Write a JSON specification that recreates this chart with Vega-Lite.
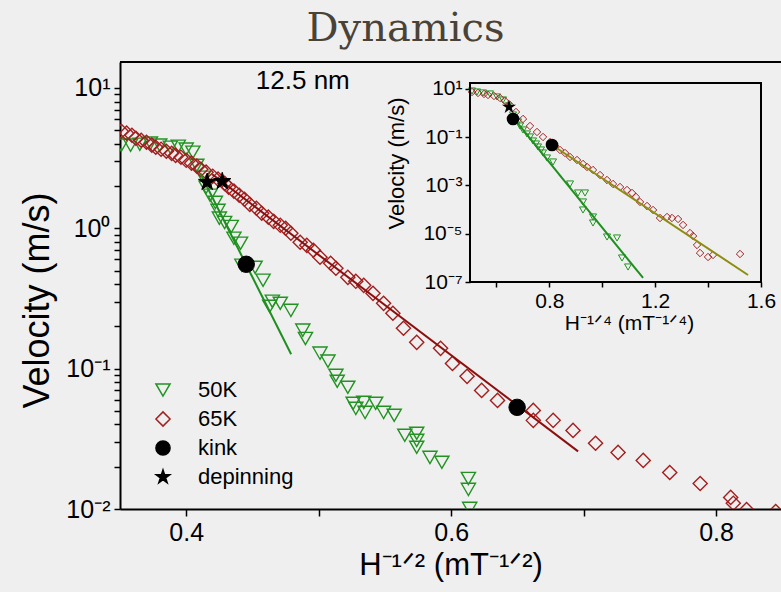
{
 "$schema": "https://vega.github.io/schema/vega-lite/v6.json",
 "width": 661, "height": 447,
 "autosize": {"type": "none"},
 "padding": {"left": 120, "top": 62, "right": 0, "bottom": 83},
 "background": "#efefef",
 "title": {"text": "Dynamics", "font": "DejaVu Serif", "fontSize": 40, "fontWeight": "normal", "color": "#4a4236", "anchor": "middle", "frame": "group", "dx": -45, "offset": 12},
 "config": {
  "view": {"stroke": null},
  "font": "Liberation Sans",
  "axis": {"grid": false, "domainColor": "#000", "domainWidth": 2, "tickColor": "#000", "tickWidth": 1.5, "labelColor": "#000", "titleColor": "#000", "titleFontWeight": "normal", "labelFlush": false, "labelOverlap": false, "labelFont": "Liberation Sans", "titleFont": "Liberation Sans"}
 },
 "datasets": {
  "main": [
   {"series":"50K","x":0.351,"y":3.91},{"series":"50K","x":0.358,"y":3.91},{"series":"50K","x":0.365,"y":3.97},{"series":"50K","x":0.373,"y":4.04},{"series":"50K","x":0.380,"y":3.91},{"series":"50K","x":0.388,"y":3.78},{"series":"50K","x":0.394,"y":3.84},{"series":"50K","x":0.400,"y":3.66},{"series":"50K","x":0.405,"y":3.48},{"series":"50K","x":0.408,"y":2.81},{"series":"50K","x":0.413,"y":2.31},{"series":"50K","x":0.415,"y":1.96},{"series":"50K","x":0.418,"y":1.72},{"series":"50K","x":0.422,"y":1.53},{"series":"50K","x":0.424,"y":1.34},{"series":"50K","x":0.425,"y":1.18},{"series":"50K","x":0.429,"y":1.10},{"series":"50K","x":0.434,"y":1.03},{"series":"50K","x":0.436,"y":0.849},{"series":"50K","x":0.441,"y":0.782},{"series":"50K","x":0.442,"y":0.545},{"series":"50K","x":0.452,"y":0.527},{"series":"50K","x":0.458,"y":0.426},{"series":"50K","x":0.463,"y":0.278},{"series":"50K","x":0.465,"y":0.302},{"series":"50K","x":0.471,"y":0.292},{"series":"50K","x":0.479,"y":0.260},{"series":"50K","x":0.488,"y":0.188},{"series":"50K","x":0.490,"y":0.164},{"series":"50K","x":0.501,"y":0.129},{"series":"50K","x":0.507,"y":0.113},{"series":"50K","x":0.513,"y":0.0896},{"series":"50K","x":0.514,"y":0.0812},{"series":"50K","x":0.522,"y":0.0736},{"series":"50K","x":0.526,"y":0.0566},{"series":"50K","x":0.528,"y":0.0521},{"series":"50K","x":0.534,"y":0.0575},{"series":"50K","x":0.535,"y":0.0488},{"series":"50K","x":0.543,"y":0.0566},{"series":"50K","x":0.549,"y":0.0488},{"series":"50K","x":0.557,"y":0.0465},{"series":"50K","x":0.565,"y":0.0335},{"series":"50K","x":0.574,"y":0.0346},{"series":"50K","x":0.574,"y":0.0308},{"series":"50K","x":0.574,"y":0.0275},{"series":"50K","x":0.584,"y":0.0233},{"series":"50K","x":0.593,"y":0.0215},{"series":"50K","x":0.613,"y":0.0165},{"series":"50K","x":0.613,"y":0.0138},{"series":"50K","x":0.614,"y":0.0101},
   {"series":"65K","x":0.351,"y":4.91},{"series":"65K","x":0.355,"y":4.76},{"series":"65K","x":0.359,"y":4.60},{"series":"65K","x":0.362,"y":4.38},{"series":"65K","x":0.366,"y":4.24},{"series":"65K","x":0.370,"y":4.10},{"series":"65K","x":0.374,"y":3.91},{"series":"65K","x":0.377,"y":3.78},{"series":"65K","x":0.381,"y":3.66},{"series":"65K","x":0.385,"y":3.54},{"series":"65K","x":0.389,"y":3.42},{"series":"65K","x":0.392,"y":3.31},{"series":"65K","x":0.396,"y":3.21},{"series":"65K","x":0.400,"y":3.05},{"series":"65K","x":0.404,"y":2.91},{"series":"65K","x":0.408,"y":2.77},{"series":"65K","x":0.411,"y":2.63},{"series":"65K","x":0.415,"y":2.51},{"series":"65K","x":0.420,"y":2.35},{"series":"65K","x":0.424,"y":2.24},{"series":"65K","x":0.429,"y":2.09},{"series":"65K","x":0.432,"y":1.96},{"series":"65K","x":0.436,"y":1.84},{"series":"65K","x":0.440,"y":1.72},{"series":"65K","x":0.444,"y":1.61},{"series":"65K","x":0.448,"y":1.48},{"series":"65K","x":0.453,"y":1.39},{"series":"65K","x":0.457,"y":1.28},{"series":"65K","x":0.462,"y":1.20},{"series":"65K","x":0.466,"y":1.12},{"series":"65K","x":0.471,"y":1.05},{"series":"65K","x":0.475,"y":1.00},{"series":"65K","x":0.479,"y":0.921},{"series":"65K","x":0.486,"y":0.795},{"series":"65K","x":0.491,"y":0.756},{"series":"65K","x":0.496,"y":0.697},{"series":"65K","x":0.501,"y":0.622},{"series":"65K","x":0.509,"y":0.563},{"series":"65K","x":0.513,"y":0.519},{"series":"65K","x":0.522,"y":0.447},{"series":"65K","x":0.528,"y":0.419},{"series":"65K","x":0.534,"y":0.392},{"series":"65K","x":0.541,"y":0.344},{"series":"65K","x":0.549,"y":0.292},{"series":"65K","x":0.556,"y":0.248},{"series":"65K","x":0.564,"y":0.194},{"series":"65K","x":0.574,"y":0.154},{"series":"65K","x":0.592,"y":0.1395},{"series":"65K","x":0.601,"y":0.109},{"series":"65K","x":0.612,"y":0.0881},{"series":"65K","x":0.623,"y":0.0700},{"series":"65K","x":0.635,"y":0.0594},{"series":"65K","x":0.662,"y":0.0504},{"series":"65K","x":0.662,"y":0.0428},{"series":"65K","x":0.677,"y":0.0428},{"series":"65K","x":0.692,"y":0.0363},{"series":"65K","x":0.709,"y":0.0294},{"series":"65K","x":0.726,"y":0.0253},{"series":"65K","x":0.745,"y":0.0222},{"series":"65K","x":0.765,"y":0.0182},{"series":"65K","x":0.788,"y":0.0152},{"series":"65K","x":0.811,"y":0.0121},{"series":"65K","x":0.813,"y":0.0110},{"series":"65K","x":0.823,"y":0.0099},{"series":"65K","x":0.845,"y":0.0096},
   {"series":"kink","x":0.4453,"y":0.554},{"series":"kink","x":0.6498,"y":0.053},
   {"series":"depinning","x":0.4158,"y":2.13},{"series":"depinning","x":0.4272,"y":2.16}
  ],
  "inset": [
   {"series":"50K","x":0.5076,"y":8.26},{"series":"50K","x":0.5265,"y":7.51},{"series":"50K","x":0.5491,"y":6.83},{"series":"50K","x":0.5756,"y":6.21},{"series":"50K","x":0.6021,"y":4.66},{"series":"50K","x":0.6248,"y":3.50},{"series":"50K","x":0.6437,"y":1.97},{"series":"50K","x":0.6626,"y":0.836},{"series":"50K","x":0.6815,"y":0.4285},{"series":"50K","x":0.6890,"y":0.2926},{"series":"50K","x":0.7004,"y":0.1998},{"series":"50K","x":0.7155,"y":0.1364},{"series":"50K","x":0.7268,"y":0.1024},{"series":"50K","x":0.7382,"y":0.0699},{"series":"50K","x":0.7495,"y":0.0525},{"series":"50K","x":0.7571,"y":0.0394},{"series":"50K","x":0.7684,"y":0.0296},{"series":"50K","x":0.7760,"y":0.0222},{"series":"50K","x":0.7911,"y":0.0138},{"series":"50K","x":0.8138,"y":0.00942},{"series":"50K","x":0.8781,"y":0.001154},{"series":"50K","x":0.9083,"y":0.000489},{"series":"50K","x":0.9348,"y":0.000489},{"series":"50K","x":0.9272,"y":0.000207},{"series":"50K","x":0.9272,"y":0.0000965},{"series":"50K","x":0.9650,"y":0.0000495},{"series":"50K","x":0.9650,"y":0.0000279},{"series":"50K","x":1.0180,"y":0.00000733},{"series":"50K","x":1.0558,"y":0.00000666},{"series":"50K","x":1.0747,"y":0.000000988},{"series":"50K","x":1.0974,"y":0.000000418},
   {"series":"65K","x":0.5076,"y":7.51},{"series":"65K","x":0.5302,"y":6.83},{"series":"65K","x":0.5529,"y":6.21},{"series":"65K","x":0.5681,"y":5.64},{"series":"65K","x":0.5907,"y":5.13},{"series":"65K","x":0.6134,"y":4.24},{"series":"65K","x":0.6323,"y":3.18},{"series":"65K","x":0.6512,"y":2.17},{"series":"65K","x":0.6739,"y":1.113},{"series":"65K","x":0.7004,"y":0.571},{"series":"65K","x":0.7268,"y":0.2926},{"series":"65K","x":0.7533,"y":0.1651},{"series":"65K","x":0.7760,"y":0.1024},{"series":"65K","x":0.8025,"y":0.0635},{"series":"65K","x":0.8214,"y":0.0434},{"series":"65K","x":0.8403,"y":0.0296},{"series":"65K","x":0.8592,"y":0.0222},{"series":"65K","x":0.8781,"y":0.0152},{"series":"65K","x":0.9045,"y":0.0114},{"series":"65K","x":0.9272,"y":0.00778},{"series":"65K","x":0.9423,"y":0.00585},{"series":"65K","x":0.9650,"y":0.00439},{"series":"65K","x":0.9915,"y":0.00272},{"series":"65K","x":1.0180,"y":0.00169},{"series":"65K","x":1.0406,"y":0.001154},{"series":"65K","x":1.0671,"y":0.000867},{"series":"65K","x":1.0936,"y":0.000651},{"series":"65K","x":1.1125,"y":0.000489},{"series":"65K","x":1.1276,"y":0.000334},{"series":"65K","x":1.1427,"y":0.000207},{"series":"65K","x":1.1692,"y":0.0001414},{"series":"65K","x":1.1919,"y":0.0000965},{"series":"65K","x":1.2183,"y":0.0000449},{"series":"65K","x":1.2448,"y":0.0000495},{"series":"65K","x":1.2637,"y":0.0000449},{"series":"65K","x":1.2864,"y":0.0000409},{"series":"65K","x":1.3053,"y":0.0000231},{"series":"65K","x":1.3318,"y":0.0000107},{"series":"65K","x":1.3431,"y":0.00000807},{"series":"65K","x":1.3582,"y":0.00000342},{"series":"65K","x":1.3696,"y":0.00000159},{"series":"65K","x":1.3998,"y":0.00000109},{"series":"65K","x":1.4187,"y":0.00000132},{"series":"65K","x":1.5208,"y":0.00000145},
   {"series":"kink","x":0.6626,"y":0.571},{"series":"kink","x":0.810,"y":0.0477},
   {"series":"depinning","x":0.6474,"y":1.794}
  ],
  "fits": [
   {"fit":"m50","x":0.4106,"y":2.466},{"fit":"m50","x":0.4792,"y":0.1265},
   {"fit":"m65","x":0.4196,"y":2.426},{"fit":"m65","x":0.6958,"y":0.02574},
   {"fit":"i50","x":0.6701,"y":0.519},{"fit":"i50","x":1.1541,"y":1.466e-7},
   {"fit":"i65","x":0.810,"y":0.0477},{"fit":"i65","x":1.551,"y":1.95e-7}
  ],
  "note": [{"label":"12.5 nm","x":0.488,"y":11.2}],
  "frame": [{"x":0.5,"x2":1.6,"y":1e-7,"y2":17.7}],
  "top": [{"y":15.3}]
 },
 "resolve": {"scale": {"x": "independent", "y": "independent"}},
 "layer": [
  {
   "data": {"name": "main"},
   "transform": [{"filter": "datum.series == '50K' || datum.series == '65K'"}],
   "mark": {"type": "point", "size": 200, "strokeWidth": 1.4, "opacity": 1, "clip": true},
   "encoding": {
    "x": {"field": "x", "type": "quantitative", "scale": {"domain": [0.35, 0.849], "nice": false, "zero": false},
          "axis": {"values": [0.4, 0.5, 0.6, 0.7, 0.8], "labelExpr": "datum.value == 0.5 || datum.value == 0.7 ? '' : format(datum.value, '.1f')", "tickSize": 7, "labelPadding": 4, "labelFontSize": 25, "title": "H⁻¹ᐟ² (mT⁻¹ᐟ²)", "titleFontSize": 31, "titlePadding": 5,
                   "encoding": {"ticks": {"update": {"y2": {"value": -7}}}}}},
    "y": {"field": "y", "type": "quantitative", "scale": {"type": "log", "domain": [0.01, 15.3], "nice": false},
          "axis": {"values": [0.01,0.02,0.03,0.04,0.05,0.06,0.07,0.08,0.09,0.1,0.2,0.3,0.4,0.5,0.6,0.7,0.8,0.9,1,2,3,4,5,6,7,8,9,10], "labelExpr": "datum.value == 10 ? '10¹' : datum.value == 1 ? '10⁰' : datum.value == 0.1 ? '10⁻¹' : datum.value == 0.01 ? '10⁻²' : ''", "tickSize": 6, "labelPadding": 4, "labelFontSize": 25, "title": "Velocity (m/s)", "titleFontSize": 36, "titlePadding": 9, "titleY": 238,
                   "encoding": {"ticks": {"update": {"x2": {"condition": {"test": "datum.value == 10 || datum.value == 1 || datum.value == 0.1 || datum.value == 0.01", "value": 9}, "value": 5}}}}}},
    "shape": {"field": "series", "type": "nominal", "scale": {"domain": ["50K", "65K", "kink", "depinning"], "range": ["triangle-down", "diamond", "circle", "M0,-1L0.2245,-0.309L0.951,-0.309L0.363,0.118L0.588,0.809L0,0.382L-0.588,0.809L-0.363,0.118L-0.951,-0.309L-0.2245,-0.309Z"]},
              "legend": {"title": null, "orient": "none", "legendX": 32, "legendY": 317, "symbolSize": 200, "labelFontSize": 22, "labelFont": "Liberation Sans", "labelColor": "#000", "rowPadding": 7, "labelOffset": 24, "padding": 0, "symbolStrokeWidth": 1.5}},
    "stroke": {"field": "series", "type": "nominal", "scale": {"domain": ["50K", "65K", "kink", "depinning"], "range": ["#229322", "#a31f1f", "#000000", "#000000"]},
              "legend": {"title": null, "orient": "none", "legendX": 32, "legendY": 317, "symbolSize": 200, "labelFontSize": 22, "labelFont": "Liberation Sans", "labelColor": "#000", "rowPadding": 7, "labelOffset": 24, "padding": 0, "symbolStrokeWidth": 1.5}},
    "fill": {"field": "series", "type": "nominal", "scale": {"domain": ["50K", "65K", "kink", "depinning"], "range": ["transparent", "transparent", "#000000", "#000000"]},
              "legend": {"title": null, "orient": "none", "legendX": 32, "legendY": 317, "symbolSize": 200, "labelFontSize": 22, "labelFont": "Liberation Sans", "labelColor": "#000", "rowPadding": 7, "labelOffset": 24, "padding": 0, "symbolStrokeWidth": 1.5}}
   }
  },
  {
   "data": {"name": "fits"},
   "transform": [{"filter": "datum.fit == 'm50'"}],
   "mark": {"type": "line", "color": "#1f8f1f", "strokeWidth": 2, "clip": true},
   "encoding": {"x": {"field": "x", "type": "quantitative", "scale": {"domain": [0.35, 0.849], "nice": false, "zero": false}, "axis": null}, "y": {"field": "y", "type": "quantitative", "scale": {"type": "log", "domain": [0.01, 15.3], "nice": false}, "axis": null}}
  },
  {
   "data": {"name": "fits"},
   "transform": [{"filter": "datum.fit == 'm65'"}],
   "mark": {"type": "line", "color": "#8c0f0f", "strokeWidth": 2, "clip": true},
   "encoding": {"x": {"field": "x", "type": "quantitative", "scale": {"domain": [0.35, 0.849], "nice": false, "zero": false}, "axis": null}, "y": {"field": "y", "type": "quantitative", "scale": {"type": "log", "domain": [0.01, 15.3], "nice": false}, "axis": null}}
  },
  {
   "data": {"name": "main"},
   "transform": [{"filter": "datum.series == 'kink'"}],
   "mark": {"type": "point", "size": 270, "strokeWidth": 1, "opacity": 1},
   "encoding": {
    "x": {"field": "x", "type": "quantitative", "scale": {"domain": [0.35, 0.849], "nice": false, "zero": false}, "axis": null}, "y": {"field": "y", "type": "quantitative", "scale": {"type": "log", "domain": [0.01, 15.3], "nice": false}, "axis": null},
    "shape": {"field": "series", "type": "nominal"}, "stroke": {"field": "series", "type": "nominal"}, "fill": {"field": "series", "type": "nominal"}
   }
  },
  {
   "data": {"name": "main"},
   "transform": [{"filter": "datum.series == 'depinning'"}],
   "mark": {"type": "point", "size": 330, "strokeWidth": 1, "opacity": 1},
   "encoding": {
    "x": {"field": "x", "type": "quantitative", "scale": {"domain": [0.35, 0.849], "nice": false, "zero": false}, "axis": null}, "y": {"field": "y", "type": "quantitative", "scale": {"type": "log", "domain": [0.01, 15.3], "nice": false}, "axis": null},
    "shape": {"field": "series", "type": "nominal"}, "stroke": {"field": "series", "type": "nominal"}, "fill": {"field": "series", "type": "nominal"}
   }
  },
  {
   "data": {"name": "note"},
   "mark": {"type": "text", "fontSize": 26, "font": "Liberation Sans", "color": "#000", "align": "center", "baseline": "middle"},
   "encoding": {"x": {"field": "x", "type": "quantitative", "scale": {"domain": [0.35, 0.849], "nice": false, "zero": false}, "axis": null}, "y": {"field": "y", "type": "quantitative", "scale": {"type": "log", "domain": [0.01, 15.3], "nice": false}, "axis": null}, "text": {"field": "label"}}
  },
  {
   "data": {"name": "top"},
   "mark": {"type": "rule", "color": "#000", "strokeWidth": 2},
   "encoding": {"y": {"field": "y", "type": "quantitative", "scale": {"type": "log", "domain": [0.01, 15.3], "nice": false}, "axis": null}}
  },
  {
   "data": {"name": "inset"},
   "transform": [{"filter": "datum.series == '50K'"}],
   "mark": {"type": "point", "shape": "triangle-down", "filled": false, "color": "#229322", "size": 50, "strokeWidth": 1, "opacity": 1},
   "encoding": {
    "x": {"field": "x", "type": "quantitative", "scale": {"domain": [0.5, 1.6], "range": [350, 641], "nice": false, "zero": false},
          "axis": {"orient": "bottom", "offset": -227, "domain": false, "values": [0.6, 0.8, 1.0, 1.2, 1.4, 1.6], "labelExpr": "datum.value == 0.8 || datum.value == 1.2 || datum.value == 1.6 ? format(datum.value, '.1f') : ''", "tickSize": 5, "labelPadding": 3, "labelFontSize": 21, "title": "H⁻¹ᐟ⁴ (mT⁻¹ᐟ⁴)", "titleFontSize": 21, "titlePadding": 1, "titleX": 509,
                   "encoding": {"ticks": {"update": {"y2": {"value": -5}}}}}},
    "y": {"field": "y", "type": "quantitative", "scale": {"type": "log", "domain": [1e-7, 17.7], "range": [220, 21], "nice": false},
          "axis": {"orient": "left", "offset": -350, "domain": false, "values": [1e-7, 1e-5, 0.001, 0.1, 10], "labelExpr": "datum.value > 5 ? '10¹' : datum.value > 0.05 ? '10⁻¹' : datum.value > 0.0005 ? '10⁻³' : datum.value > 0.000005 ? '10⁻⁵' : '10⁻⁷'", "tickSize": 5, "labelPadding": 3, "labelFontSize": 21, "title": "Velocity (m/s)", "titleFontSize": 22, "titlePadding": 14, "titleY": 101,
                   "encoding": {"ticks": {"update": {"x2": {"value": 5}}}}}}
   }
  },
  {
   "data": {"name": "inset"},
   "transform": [{"filter": "datum.series == '65K'"}],
   "mark": {"type": "point", "shape": "diamond", "filled": false, "color": "#a31f1f", "size": 55, "strokeWidth": 1, "opacity": 1},
   "encoding": {"x": {"field": "x", "type": "quantitative", "scale": {"domain": [0.5, 1.6], "range": [350, 641], "nice": false, "zero": false}, "axis": null}, "y": {"field": "y", "type": "quantitative", "scale": {"type": "log", "domain": [1e-7, 17.7], "range": [220, 21], "nice": false}, "axis": null}}
  },
  {
   "data": {"name": "fits"},
   "transform": [{"filter": "datum.fit == 'i50'"}],
   "mark": {"type": "line", "color": "#1f8f1f", "strokeWidth": 2},
   "encoding": {"x": {"field": "x", "type": "quantitative", "scale": {"domain": [0.5, 1.6], "range": [350, 641], "nice": false, "zero": false}, "axis": null}, "y": {"field": "y", "type": "quantitative", "scale": {"type": "log", "domain": [1e-7, 17.7], "range": [220, 21], "nice": false}, "axis": null}}
  },
  {
   "data": {"name": "fits"},
   "transform": [{"filter": "datum.fit == 'i65'"}],
   "mark": {"type": "line", "color": "#8e8c10", "strokeWidth": 2},
   "encoding": {"x": {"field": "x", "type": "quantitative", "scale": {"domain": [0.5, 1.6], "range": [350, 641], "nice": false, "zero": false}, "axis": null}, "y": {"field": "y", "type": "quantitative", "scale": {"type": "log", "domain": [1e-7, 17.7], "range": [220, 21], "nice": false}, "axis": null}}
  },
  {
   "data": {"name": "inset"},
   "transform": [{"filter": "datum.series == 'kink'"}],
   "mark": {"type": "point", "shape": "circle", "filled": true, "color": "#000", "size": 160, "opacity": 1},
   "encoding": {"x": {"field": "x", "type": "quantitative", "scale": {"domain": [0.5, 1.6], "range": [350, 641], "nice": false, "zero": false}, "axis": null}, "y": {"field": "y", "type": "quantitative", "scale": {"type": "log", "domain": [1e-7, 17.7], "range": [220, 21], "nice": false}, "axis": null}}
  },
  {
   "data": {"name": "inset"},
   "transform": [{"filter": "datum.series == 'depinning'"}],
   "mark": {"type": "point", "shape": "M0,-1L0.2245,-0.309L0.951,-0.309L0.363,0.118L0.588,0.809L0,0.382L-0.588,0.809L-0.363,0.118L-0.951,-0.309L-0.2245,-0.309Z", "filled": true, "color": "#000", "size": 220, "opacity": 1},
   "encoding": {"x": {"field": "x", "type": "quantitative", "scale": {"domain": [0.5, 1.6], "range": [350, 641], "nice": false, "zero": false}, "axis": null}, "y": {"field": "y", "type": "quantitative", "scale": {"type": "log", "domain": [1e-7, 17.7], "range": [220, 21], "nice": false}, "axis": null}}
  },
  {
   "data": {"name": "frame"},
   "mark": {"type": "rect", "fill": "transparent", "stroke": "#000", "strokeWidth": 2},
   "encoding": {"x": {"field": "x", "type": "quantitative", "scale": {"domain": [0.5, 1.6], "range": [350, 641], "nice": false, "zero": false}, "axis": null}, "x2": {"field": "x2"}, "y": {"field": "y", "type": "quantitative", "scale": {"type": "log", "domain": [1e-7, 17.7], "range": [220, 21], "nice": false}, "axis": null}, "y2": {"field": "y2"}}
  }
 ]
}
